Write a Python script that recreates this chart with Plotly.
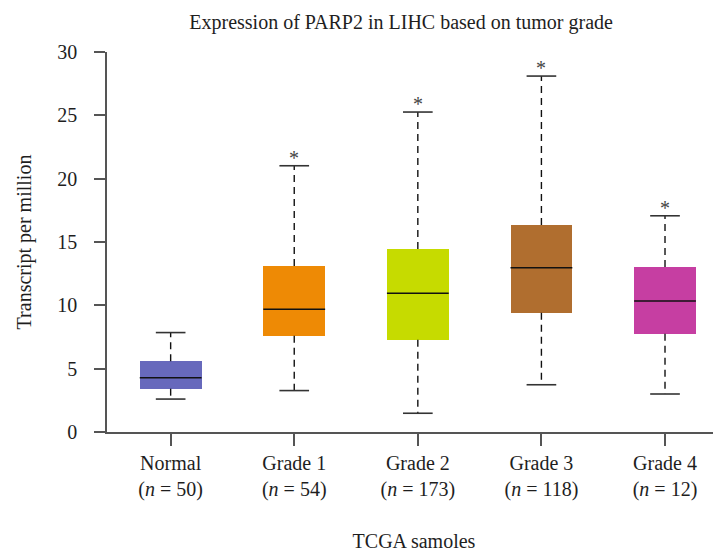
import plotly.graph_objects as go

# ---- data ----
categories = ["Normal", "Grade 1", "Grade 2", "Grade 3", "Grade 4"]
sample_counts = [50, 54, 173, 118, 12]
lower_whisker = [2.60, 3.27, 1.48, 3.73, 3.00]
q1_values = [3.42, 7.60, 7.29, 9.42, 7.76]
median_values = [4.29, 9.69, 10.95, 12.97, 10.34]
q3_values = [5.59, 13.10, 14.45, 16.34, 13.02]
upper_whisker = [7.85, 21.02, 25.26, 28.10, 17.07]
significant = [False, True, True, True, True]
box_colors = ["#6769BC", "#EE8A05", "#C6DB00", "#B06E2F", "#C63EA2"]
y_tick_values = [0, 5, 10, 15, 20, 25, 30]

FONT = "Liberation Serif"
BOX_HALF = 0.25
CAP_HALF = 0.12

positions = list(range(len(categories)))
tick_text = [f"{c}<br>(<i>n</i> = {n})" for c, n in zip(categories, sample_counts)]

fig = go.Figure()

# boxes (q1 -> q3)
fig.add_trace(go.Bar(
    x=positions,
    y=[q3 - q1 for q1, q3 in zip(q1_values, q3_values)],
    base=q1_values,
    width=2 * BOX_HALF,
    marker=dict(color=box_colors, line=dict(width=0)),
    showlegend=False,
    hoverinfo="skip",
))

# dashed whiskers
wx, wy = [], []
for i in positions:
    wx += [i, i, None, i, i, None]
    wy += [q3_values[i], upper_whisker[i], None, q1_values[i], lower_whisker[i], None]
fig.add_trace(go.Scatter(
    x=wx, y=wy, mode="lines",
    line=dict(color="#111111", width=1.4, dash="7px,5px"),
    showlegend=False, hoverinfo="skip",
))

# whisker caps
cx, cy = [], []
for i in positions:
    cx += [i - CAP_HALF, i + CAP_HALF, None, i - CAP_HALF, i + CAP_HALF, None]
    cy += [upper_whisker[i], upper_whisker[i], None, lower_whisker[i], lower_whisker[i], None]
fig.add_trace(go.Scatter(
    x=cx, y=cy, mode="lines",
    line=dict(color="#333333", width=1.6),
    showlegend=False, hoverinfo="skip",
))

# medians
mx, my = [], []
for i in positions:
    mx += [i - BOX_HALF, i + BOX_HALF, None]
    my += [median_values[i], median_values[i], None]
fig.add_trace(go.Scatter(
    x=mx, y=my, mode="lines",
    line=dict(color="#111111", width=1.5),
    showlegend=False, hoverinfo="skip",
))

# significance asterisks
for i in positions:
    if significant[i]:
        fig.add_annotation(
            x=i, y=upper_whisker[i], text="*", showarrow=False,
            yanchor="bottom", yshift=-5,
            font=dict(family=FONT, size=20, color="#444444"),
        )

axis_line = "#555555"
W, H = 713, 544
fig.update_layout(
    width=W, height=H,
    margin=dict(l=99, r=0, t=44, b=120, autoexpand=False),
    paper_bgcolor="white", plot_bgcolor="white",
    font=dict(family=FONT, size=20, color="#1e1e1e"),
    title=dict(
        text="Expression of PARP2 in LIHC based on tumor grade",
        x=0.479, xref="paper", y=1 - 14 / H, yref="container",
        xanchor="center", yanchor="middle",
        font=dict(family=FONT, size=20, color="#1e1e1e"),
        automargin=False,
    ),
    bargap=0,
    showlegend=False,
)
fig.update_xaxes(
    range=[-0.515, 4.453],
    tickvals=positions, ticktext=tick_text,
    showline=True, linecolor=axis_line, linewidth=1.5,
    ticks="outside", ticklen=12, tickwidth=1.5, tickcolor=axis_line,
    showgrid=False, zeroline=False, automargin=False,
    title=dict(text="TCGA samoles", standoff=36, font=dict(size=20)),
    tickfont=dict(size=20),
)
fig.update_yaxes(
    range=[0, 30],
    tickvals=y_tick_values,
    showline=True, linecolor=axis_line, linewidth=1.5,
    ticks="outside", ticklen=11, tickwidth=1.5, tickcolor=axis_line,
    ticklabelstandoff=13,
    showgrid=False, zeroline=False, automargin=False,
    title=dict(text="Transcript per million", standoff=20, font=dict(size=20)),
    tickfont=dict(size=20),
)

fig.write_html("out.html")
